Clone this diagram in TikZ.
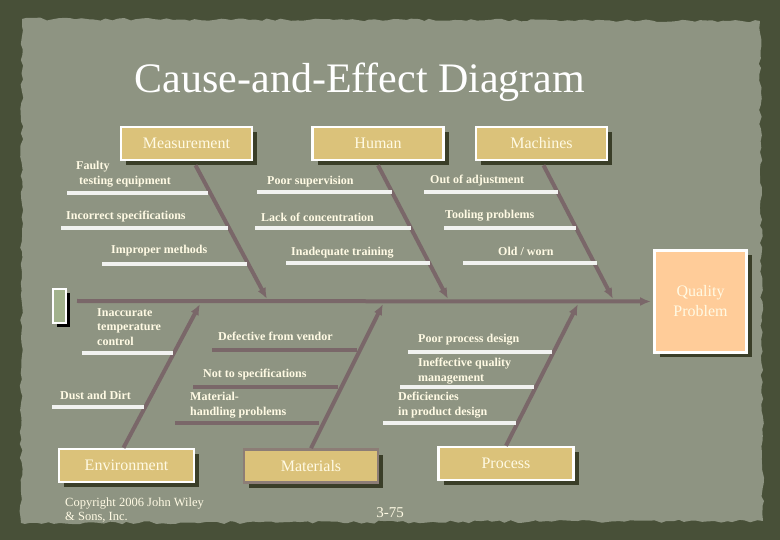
\documentclass[tikz,border=0pt]{standalone}
\usepackage{fontspec}
\setmainfont{Liberation Serif}
\usepackage{tikz}
\usetikzlibrary{arrows.meta,shadows,decorations.pathmorphing,positioning}
\definecolor{paper}{RGB}{142,148,130}
\definecolor{frame}{RGB}{72,80,56}
\definecolor{tan}{RGB}{219,194,122}
\definecolor{peach}{RGB}{255,204,153}
\definecolor{sage}{RGB}{162,178,140}
\definecolor{bonec}{RGB}{122,103,105}
\definecolor{cream}{RGB}{255,250,228}
\definecolor{shade}{RGB}{58,62,40}
\tikzset{>={Latex[length=11pt,width=9pt]}}
\tikzset{
  cause/.style={draw=white,line width=2.5pt,fill=tan,minimum width=131pt,minimum height=33pt,
    text=cream,font=\fontsize{16}{18}\selectfont,
    drop shadow={shadow xshift=5pt,shadow yshift=-5pt,fill=shade,opacity=1}},
  bone/.style={bonec,line width=4pt},
  rib/.style={white!88!paper,line width=4.5pt},
  mrib/.style={bonec,line width=4.5pt},
  lbl/.style={anchor=west,text=cream,font=\fontsize{12}{14.5}\selectfont\bfseries,align=left,inner sep=0pt},
}
\begin{document}
\begin{tikzpicture}[x=1pt,y=-1pt]
\fill[frame] (0,0) rectangle (780,540);
\fill[paper,decorate,decoration={random steps,segment length=6pt,amplitude=1.5pt}]
  (22,19) -- (760,21) -- (763,521) -- (21,523) -- cycle;
\useasboundingbox (0,0) rectangle (780,540);

\node[text=white,font=\fontsize{42}{46}\selectfont,anchor=base] (title) at (360,93) {Cause-and-Effect Diagram};

\node[cause] (meas) at (186.5,143.5) {Measurement};
\node[cause] (human) at (378,143.5) {Human};
\node[cause] (mach) at (541.5,143.5) {Machines};
\node[cause,minimum width=135pt] (env) at (126.5,465.5) {Environment};
\node[cause,minimum width=134pt,draw={rgb,255:red,140;green,125;blue,118}] (mat) at (311,466) {Materials};
\node[cause,minimum width=135pt] (proc) at (506,463.5) {Process};

\node[draw=white,line width=3pt,fill=peach,minimum width=92pt,minimum height=102pt,
  text=cream,font=\fontsize{16}{20}\selectfont,align=center,
  drop shadow={shadow xshift=5pt,shadow yshift=-5pt,fill=shade,opacity=1}]
  (quality) at (700.5,301.5) {Quality\\Problem};
\node[draw=white,line width=2pt,fill=sage,minimum width=13pt,minimum height=34pt,inner sep=0pt,
  drop shadow={shadow xshift=4pt,shadow yshift=-4pt,fill=black,opacity=1}]
  (head) at (59.5,306) {};

\coordinate (tail) at (77,301);
\coordinate (mtip) at (267,299);
\coordinate (htip) at (448,299);
\coordinate (ctip) at (613,299);
\coordinate (etip) at (200,304);
\coordinate (atip) at (383,304);
\coordinate (ptip) at (578,304);

\draw[bone,->,shorten >=2pt] (tail) -- (quality.west);
\draw[bone,->] ([xshift=9pt,yshift=-4pt]meas.south) -- (mtip);
\draw[bone,->] ([yshift=-4pt]human.south) -- (htip);
\draw[bone,->] ([xshift=2pt,yshift=-4pt]mach.south) -- (ctip);
\draw[bone,->] ([xshift=-3pt]env.north) -- (etip);
\draw[bone,->] (mat.north) -- (atip);
\draw[bone,->] (proc.north) -- (ptip);

\foreach \a/\b/\y in {67/208/193, 61/228/228, 102/247/264, 257/392/192, 255/411/228, 286/430/263,
  424/558/192, 444/576/228, 463/597/263, 82/173/353, 52/144/407, 408/552/352, 400/534/387, 383/516/423}
  \draw[rib] (\a,\y) -- (\b,\y);
\foreach \a/\b/\y in {212/357/350, 193/338/387, 175/319/423}
  \draw[mrib] (\a,\y) -- (\b,\y);

\node[lbl] (m1) at (76,174) {Faulty\\\ testing equipment};
\node[lbl] (m2) at (66,217) {Incorrect specifications};
\node[lbl] (m3) at (111,251) {Improper methods};
\node[lbl] (h1) at (267,182) {Poor supervision};
\node[lbl] (h2) at (261,217) {Lack of concentration};
\node[lbl] (h3) at (291,253) {Inadequate training};
\node[lbl] (c1) at (430,181) {Out of adjustment};
\node[lbl] (c2) at (445,216) {Tooling problems};
\node[lbl] (c3) at (498,251) {Old / worn};
\node[lbl] (e1) at (97,327) {Inaccurate\\temperature\\control};
\node[lbl] (e2) at (60,395) {Dust and Dirt};
\node[lbl] (a1) at (218,336) {Defective from vendor};
\node[lbl] (a2) at (203,375) {Not to specifications};
\node[lbl] (a3) at (190,405) {Material-\\handling problems};
\node[lbl] (p1) at (418,340) {Poor process design};
\node[lbl] (p2) at (418,371) {Ineffective quality\\management};
\node[lbl] (p3) at (398,405) {Deficiencies\\in product design};

\node[text=cream,font=\fontsize{12.5}{14}\selectfont,align=left,anchor=west,inner sep=0pt]
  (copy) at (65,510) {Copyright 2006 John Wiley\\\& Sons, Inc.};
\node[text=cream,font=\fontsize{15}{17}\selectfont] (page) at (390,513) {3-75};
\end{tikzpicture}
\end{document}
